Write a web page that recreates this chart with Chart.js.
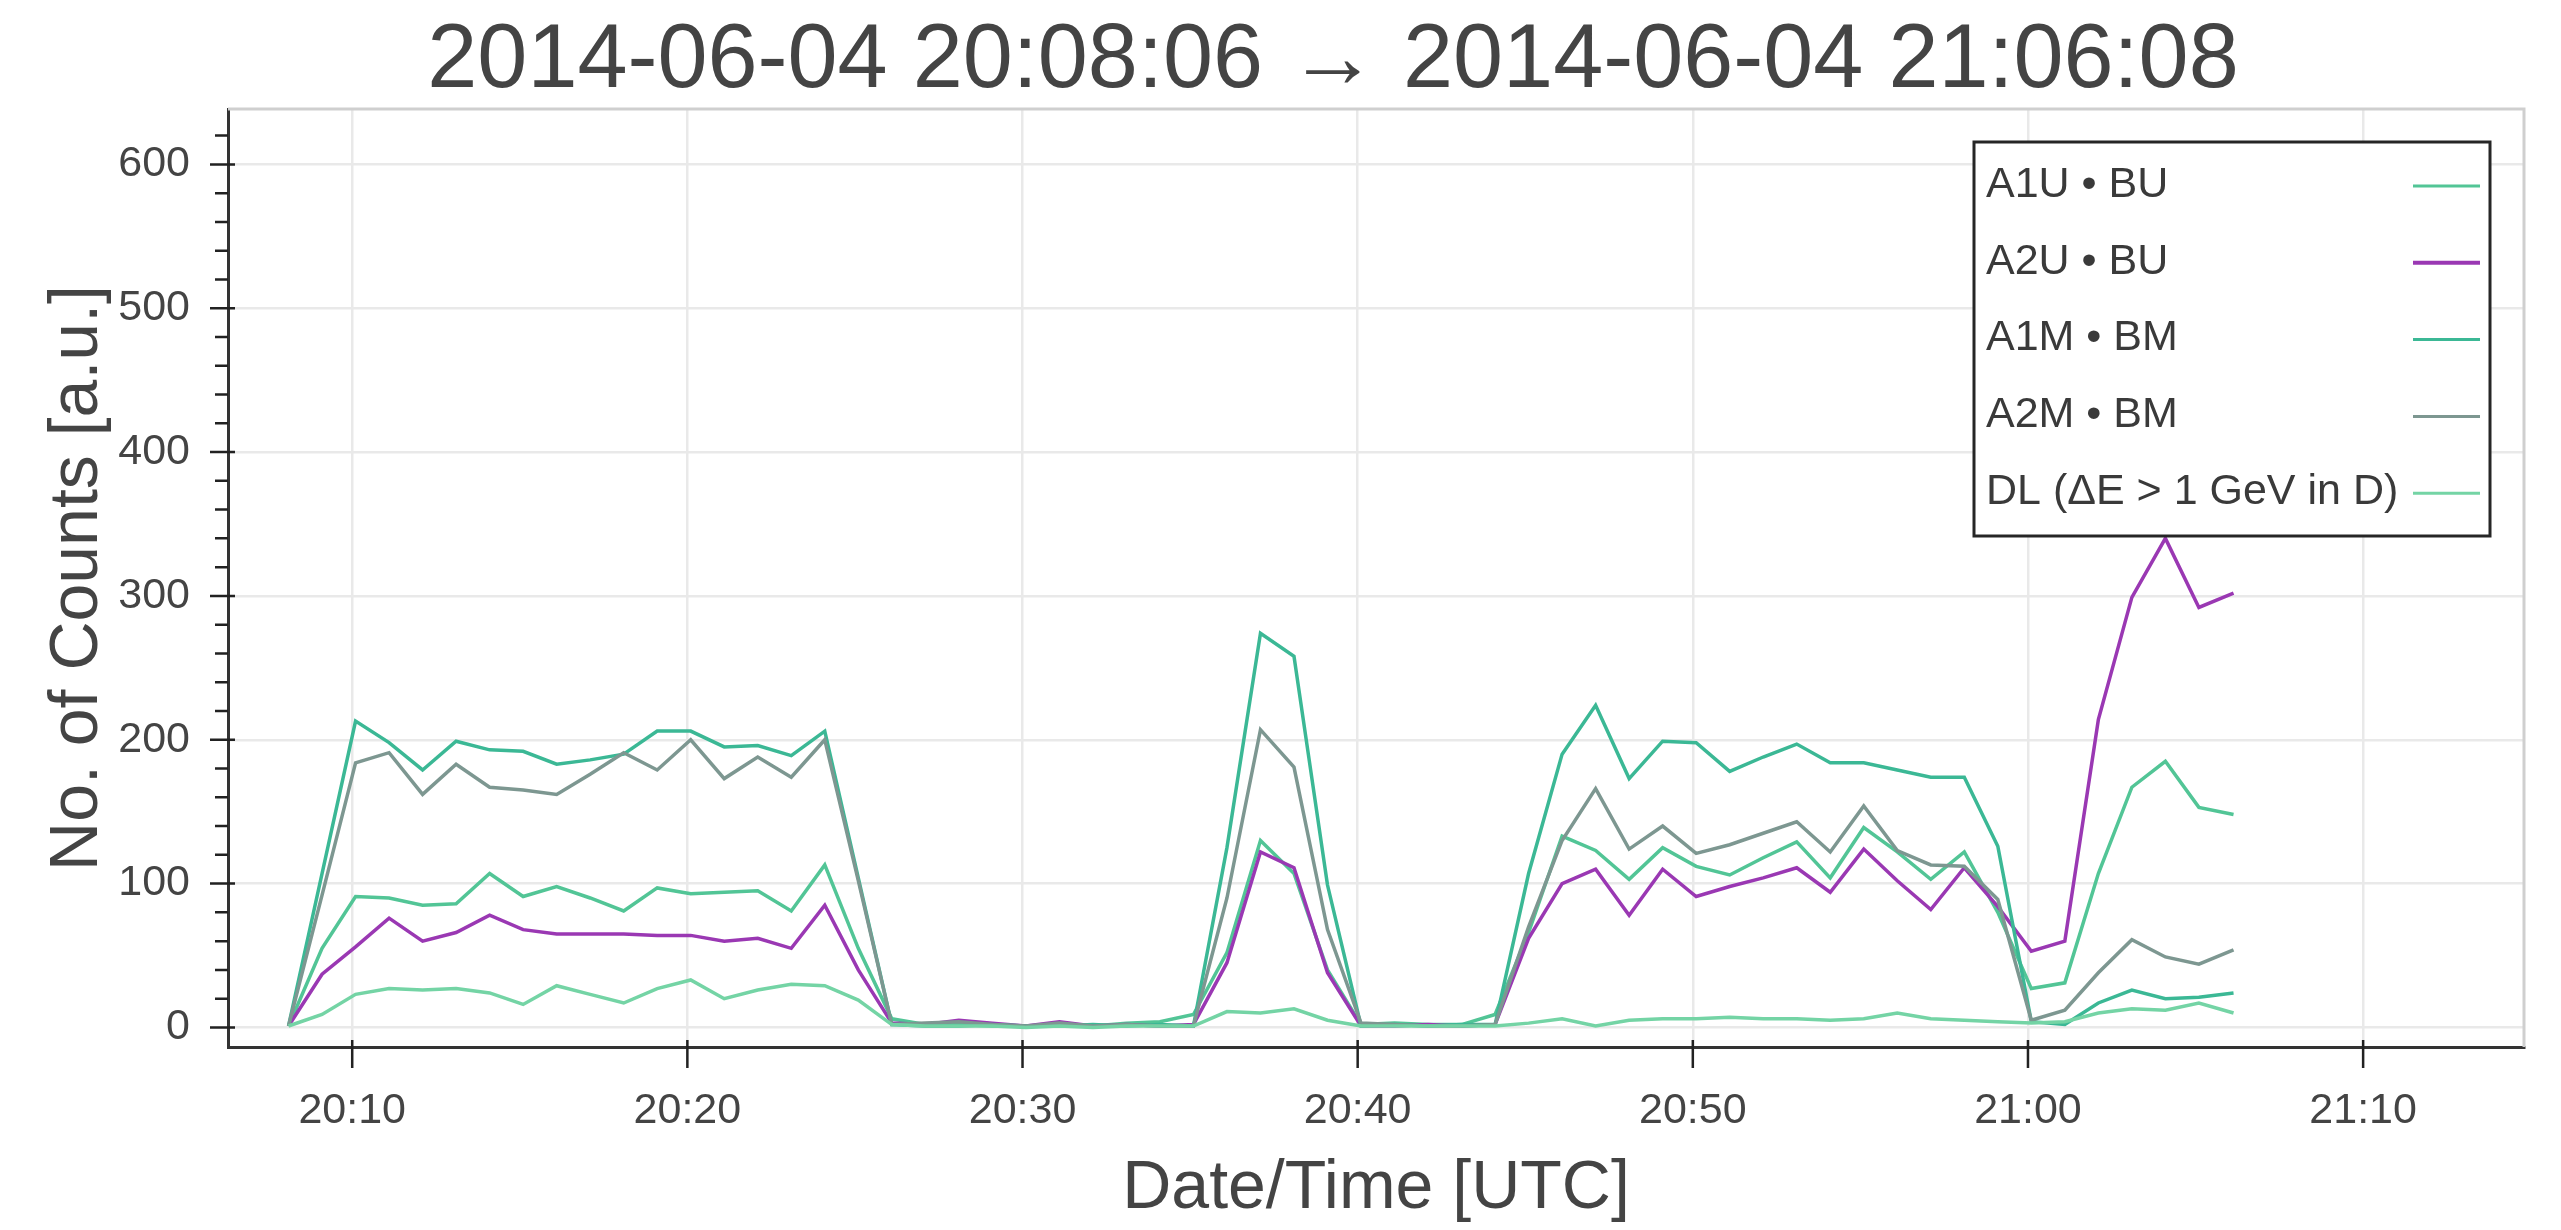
<!DOCTYPE html>
<html>
<head>
<meta charset="utf-8">
<title>Contagens</title>
<script src="https://cdn.jsdelivr.net/npm/chart.js@4.4.0/dist/chart.umd.min.js"></script>
<style>
    body { margin: 0; background: #ffffff; }
    canvas { display: block; }
</style>
</head>
<body>
<canvas id="graficoContagens" width="2561" height="1230"></canvas>
<script>
// DADOS
var titulo = '2014-06-04 20:08:06 → 2014-06-04 21:06:08'

var horarios = [
    '20:08:06', '20:09:06', '20:10:06', '20:11:06', '20:12:06', '20:13:06', '20:14:06', '20:15:06', '20:16:06', '20:17:06',
    '20:18:06', '20:19:06', '20:20:06', '20:21:06', '20:22:06', '20:23:06', '20:24:06', '20:25:06', '20:26:06', '20:27:06',
    '20:28:06', '20:29:06', '20:30:06', '20:31:06', '20:32:06', '20:33:06', '20:34:06', '20:35:06', '20:36:06', '20:37:06',
    '20:38:06', '20:39:06', '20:40:06', '20:41:06', '20:42:06', '20:43:06', '20:44:06', '20:45:06', '20:46:06', '20:47:06',
    '20:48:06', '20:49:06', '20:50:06', '20:51:06', '20:52:06', '20:53:06', '20:54:06', '20:55:06', '20:56:06', '20:57:06',
    '20:58:06', '20:59:06', '21:00:06', '21:01:06', '21:02:06', '21:03:06', '21:04:06', '21:05:06', '21:06:08'
]

var nomesSeries = ['A1U • BU', 'A2U • BU', 'A1M • BM', 'A2M • BM', 'DL (ΔE > 1 GeV in D)']

var a1u = [1, 55, 91, 90, 85, 86, 107, 91, 98, 90,
    81, 97, 93, 94, 95, 81, 113, 55, 6, 2,
    2, 1, 1, 2, 1, 3, 4, 9, 52, 130,
    107, 40, 2, 3, 2, 2, 9, 66, 133, 123,
    103, 125, 112, 106, 118, 129, 104, 139, 122, 103,
    122, 80, 27, 31, 107, 167, 185, 153, 148]

var a2u = [1, 37, 56, 76, 60, 66, 78, 68, 65, 65,
    65, 64, 64, 60, 62, 55, 85, 40, 3, 2,
    5, 3, 1, 4, 1, 2, 1, 2, 45, 122,
    111, 38, 1, 1, 2, 1, 2, 62, 100, 110,
    78, 110, 91, 98, 104, 111, 94, 124, 102, 82,
    111, 84, 53, 60, 214, 299, 340, 292, 302]

var a1m = [1, 107, 213, 198, 179, 199, 193, 192, 183, 186,
    190, 206, 206, 195, 196, 189, 206, 104, 2, 1,
    1, 2, 1, 1, 2, 1, 2, 1, 125, 274,
    258, 99, 1, 2, 1, 2, 2, 107, 190, 224,
    173, 199, 198, 178, 188, 197, 184, 184, 179, 174,
    174, 126, 4, 2, 17, 26, 20, 21, 24]

var a2m = [1, 92, 184, 191, 162, 183, 167, 165, 162, 176,
    191, 179, 200, 173, 188, 174, 200, 102, 2, 3,
    4, 2, 1, 3, 1, 2, 1, 1, 90, 207,
    181, 68, 3, 2, 1, 1, 2, 70, 130, 166,
    124, 140, 121, 127, 135, 143, 122, 154, 123, 113,
    112, 89, 5, 12, 38, 61, 49, 44, 54]

var dl = [1, 9, 23, 27, 26, 27, 24, 16, 29, 23,
    17, 27, 33, 20, 26, 30, 29, 19, 2, 1,
    1, 1, 0, 1, 0, 1, 1, 1, 11, 10,
    13, 5, 1, 1, 1, 1, 1, 3, 6, 1,
    5, 6, 6, 7, 6, 6, 5, 6, 10, 6,
    5, 4, 3, 4, 10, 13, 12, 17, 10]

var ticksX = ['20:10', '20:20', '20:30', '20:40', '20:50', '21:00', '21:10']
var ticksY = [0, 100, 200, 300, 400, 500, 600]

var cores = ['#52c596', '#9a38b3', '#3bb895', '#7d9791', '#74d4a5']

Chart.defaults.font.family = "'Liberation Sans', Arial, sans-serif"
Chart.defaults.color = '#444444'

function paraMinutos(hora) {
    var p = hora.split(':')
    return (Number(p[0]) - 20) * 60 + Number(p[1]) + (p[2] ? Number(p[2]) / 60 : 0)
}

function paraHora(minutos) {
    var h = 20 + Math.floor(Math.round(minutos) / 60)
    var m = Math.round(minutos) % 60
    return h + ':' + (m < 10 ? '0' + m : m)
}

function montarSerie(valores) {
    return horarios.map(function (h, i) { return { x: paraMinutos(h), y: valores[i] } })
}

// TITULO, MOLDURA, TICKS E LEGENDA
var extras = {
    id: 'extras',
    afterDraw: function (chart) {
        var ctx = chart.ctx
        var area = chart.chartArea
        var sx = chart.scales.x
        var sy = chart.scales.y
        ctx.save()

        ctx.strokeStyle = '#cfcfcf'
        ctx.lineWidth = 3
        ctx.beginPath()
        ctx.moveTo(area.left, area.top)
        ctx.lineTo(area.right, area.top)
        ctx.lineTo(area.right, area.bottom)
        ctx.stroke()

        ctx.strokeStyle = '#222222'
        ctx.lineWidth = 2.5
        ctx.beginPath()
        sy.ticks.forEach(function (t) {
            var y = sy.getPixelForValue(t.value)
            ctx.moveTo(area.left - 18, y)
            ctx.lineTo(area.left + 7, y)
        })
        for (var v = 20; v < sy.max; v += 20) {
            if (v % 100 === 0) continue
            var ym = sy.getPixelForValue(v)
            ctx.moveTo(area.left - 13, ym)
            ctx.lineTo(area.left, ym)
        }
        sx.ticks.forEach(function (t) {
            var x = sx.getPixelForValue(t.value)
            ctx.moveTo(x, area.bottom - 7)
            ctx.lineTo(x, area.bottom + 21)
        })
        ctx.stroke()

        ctx.fillStyle = '#444444'
        ctx.font = "90px 'Liberation Sans', Arial, sans-serif"
        ctx.textAlign = 'center'
        ctx.textBaseline = 'alphabetic'
        ctx.fillText(titulo, 1333, 87)

        // LEGENDA
        ctx.fillStyle = '#ffffff'
        ctx.fillRect(1974, 142, 516, 394)
        ctx.strokeStyle = '#262626'
        ctx.lineWidth = 3
        ctx.strokeRect(1974, 142, 516, 394)
        ctx.font = "43px 'Liberation Sans', Arial, sans-serif"
        ctx.textAlign = 'left'
        ctx.textBaseline = 'middle'
        chart.data.datasets.forEach(function (ds, i) {
            var y = 186 + i * 76.8
            ctx.fillStyle = '#3a3a3a'
            ctx.fillText(ds.label, 1986, y - 1)
            ctx.strokeStyle = ds.borderColor
            ctx.lineWidth = i === 1 ? 4 : 3
            ctx.beginPath()
            ctx.moveTo(2413, y)
            ctx.lineTo(2480, y)
            ctx.stroke()
        })
        ctx.restore()
    }
}

var series = [a1u, a2u, a1m, a2m, dl]

var grafico = new Chart(document.getElementById('graficoContagens'), {
    type: 'line',
    data: {
        datasets: series.map(function (s, i) {
            return {
                label: nomesSeries[i],
                data: montarSerie(s),
                borderColor: cores[i],
                borderWidth: 3.5,
                pointRadius: 0,
                tension: 0,
                fill: false,
                borderJoinStyle: 'miter',
                order: 5 - i
            }
        })
    },
    options: {
        responsive: false,
        devicePixelRatio: 1,
        animation: false,
        layout: { padding: { top: 109, right: 37, bottom: 0, left: 0 } },
        plugins: {
            legend: { display: false },
            title: { display: false },
            tooltip: { enabled: false }
        },
        scales: {
            x: {
                type: 'linear',
                min: 6.294,
                max: 74.8,
                afterBuildTicks: function (scale) {
                    scale.ticks = ticksX.map(function (t) { return { value: paraMinutos(t) } })
                },
                afterFit: function (scale) { scale.height = 183 },
                ticks: {
                    autoSkip: false,
                    maxRotation: 0,
                    padding: 38,
                    color: '#444444',
                    font: { size: 43 },
                    callback: function (valor) { return paraHora(valor) }
                },
                grid: { color: '#e9e9e9', lineWidth: 2.5, drawTicks: false },
                border: { display: true, color: '#333333', width: 3 },
                title: {
                    display: true,
                    text: 'Date/Time [UTC]',
                    color: '#444444',
                    font: { size: 68 },
                    padding: { top: 0, bottom: 0 }
                }
            },
            y: {
                type: 'linear',
                min: -13.6,
                max: 638.5,
                afterBuildTicks: function (scale) {
                    scale.ticks = ticksY.map(function (v) { return { value: v } })
                },
                afterFit: function (scale) { scale.width = 228 },
                ticks: {
                    padding: 38,
                    color: '#444444',
                    font: { size: 43 }
                },
                grid: { color: '#e9e9e9', lineWidth: 2.5, drawTicks: false },
                border: { display: true, color: '#333333', width: 3 },
                title: {
                    display: true,
                    text: 'No. of Counts [a.u.]',
                    color: '#444444',
                    font: { size: 68 },
                    padding: { top: 37, bottom: 0 }
                }
            }
        }
    },
    plugins: [extras]
})
</script>
</body>
</html>
